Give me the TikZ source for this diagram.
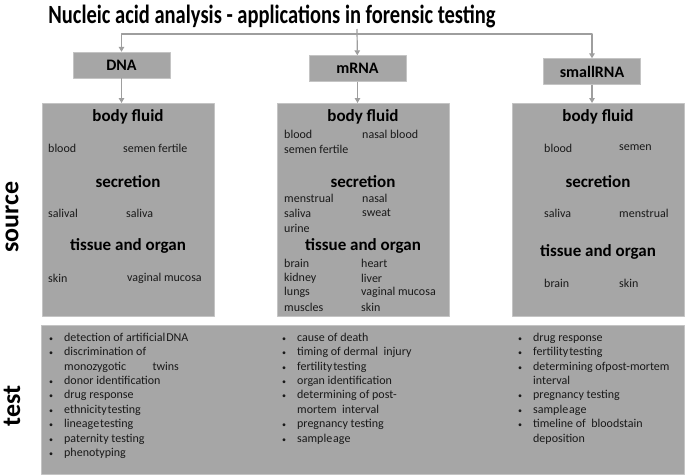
\documentclass[tikz,border=0pt]{standalone}
\usepackage{fontspec}
\setmainfont{Carlito}
\newfontfamily\titlefont{Carlito}[FakeStretch=0.78]
\usetikzlibrary{arrows.meta,calc,positioning}
\definecolor{boxgray}{RGB}{166,166,166}
\definecolor{edgegray}{RGB}{196,196,196}
\definecolor{arrgray}{RGB}{158,158,158}
\definecolor{ink}{RGB}{25,25,25}
\tikzset{acid/.style={draw=edgegray,fill=boxgray,minimum width=97pt,minimum height=26pt,inner sep=0pt,font=\fontsize{16}{18}\selectfont\bfseries},
  srcbox/.style={draw=edgegray,fill=boxgray,minimum width=172pt,minimum height=213pt,anchor=north west,inner sep=0pt},
  secthead/.style={font=\fontsize{17}{19}\selectfont\bfseries},
  itm/.style={anchor=west,inner sep=0pt,text=ink,font=\fontsize{12}{14}\selectfont},
  testlist/.style={anchor=north west,inner sep=0pt,text=ink,font=\fontsize{12}{14.4}\selectfont},
  side/.style={rotate=90,font=\fontsize{26}{30}\selectfont\bfseries},
  arr/.style={arrgray,line width=1.2pt,-{Triangle[width=5.5pt,length=5pt]}}}
\newcommand{\dotb}{{\fontsize{8}{8}\selectfont\textbullet}}

\begin{document}
\begin{tikzpicture}[x=1pt,y=-1pt,line join=round]
\useasboundingbox (0,0) rectangle (685,474);
\fill[white] (0,0) rectangle (685,474);
% --- title and the three nucleic acids
\node[font=\titlefont\fontsize{26.3}{30}\selectfont\bfseries] (title) at (272,16) {Nucleic acid analysis - applications in forensic testing};
\coordinate (split) at (357,34); \coordinate (hub) at (357,29);
\node[acid] (dna) at (121.5,65) {DNA};
\node[acid] (mrna) at (357.5,68.5) {mRNA};
\node[acid] (srna) at (592,71.5) {smallRNA};
\draw[arr] (split) -| (dna); \draw[arr] (split) -| (srna); \draw[arr] (hub) -- (mrna);
% --- source boxes
\node[srcbox] (bdna) at (42,103) {}; \node[srcbox] (bmrna) at (277,103) {}; \node[srcbox] (bsrna) at (512,103) {};
\draw[arr] (dna) -- (dna.south |- bdna.north); \draw[arr] (mrna) -- (mrna.south |- bmrna.north); \draw[arr] (srna) -- (srna.south |- bsrna.north);
\node[side] (src) at (12,217) {source};
\foreach \x/\y/\t [count=\i] in {128/117/body fluid,128/182/secretion,128/246/tissue and organ,
  363/117/body fluid,363/182/secretion,363/246/tissue and organ,598/117/body fluid,598/182/secretion,598/252/tissue and organ}
  \node[secthead] (h\i) at (\x,\y) {\t};
% DNA
\foreach \x/\y/\t [count=\i] in {48/148/blood,123/148/semen fertile,48/213/salival,126/213/saliva,48/278/skin,127/278/vaginal mucosa}
  \node[itm] (d\i) at (\x,\y) {\t};
% mRNA
\foreach \x/\y/\t [count=\i] in {284/134/blood,362/134/nasal blood,284/149/semen fertile,284/198/menstrual,362/198/nasal,284/213/saliva,362/213/sweat,284/228/urine,
  284/263/brain,361/263/heart,284/278/kidney,361/278/liver,284/292/lungs,361/292/vaginal mucosa,284/307/muscles,361/307/skin}
  \node[itm] (m\i) at (\x,\y) {\t};
% smallRNA
\foreach \x/\y/\t [count=\i] in {544/148/blood,619/148/semen,544/213/saliva,619/213/menstrual,544/283/brain,619/283/skin}
  \node[itm] (s\i) at (\x,\y) {\t};
% --- test box
\node[srcbox,minimum width=643pt,minimum height=149pt] (tbox) at (41,325) {};
\node[side] (tst) at (12,406) {test};
\node[testlist] (tdna) at (49,331) {\begin{tabular}{@{}l@{\hspace{11pt}}l@{}}
  \dotb & detection of artificial\hspace{1pt}DNA\\ \dotb & discrimination of\\ & monozygotic\hspace{2.2em}twins\\ \dotb & donor identification\\
  \dotb & drug response\\ \dotb & ethnicity\hspace{1pt}testing\\ \dotb & lineage\hspace{1pt}testing\\ \dotb & paternity testing\\ \dotb & phenotyping\end{tabular}};
\node[testlist] (tmrna) at (282,331) {\begin{tabular}{@{}l@{\hspace{11pt}}l@{}}
  \dotb & cause of death\\ \dotb & timing of dermal\ \ injury\\ \dotb & fertility\hspace{1pt}testing\\ \dotb & organ identification\\
  \dotb & determining of post-\\ & mortem\ \ interval\\ \dotb & pregnancy testing\\ \dotb & sample\hspace{1pt}age\end{tabular}};
\node[testlist] (tsrna) at (518,331) {\begin{tabular}{@{}l@{\hspace{11pt}}l@{}}
  \dotb & drug response\\ \dotb & fertility\hspace{1pt}testing\\ \dotb & determining ofpost-mortem\\ & interval\\
  \dotb & pregnancy testing\\ \dotb & sample\hspace{1pt}age\\ \dotb & timeline of\ \ bloodstain\\ & deposition\end{tabular}};
\end{tikzpicture}
\end{document}
